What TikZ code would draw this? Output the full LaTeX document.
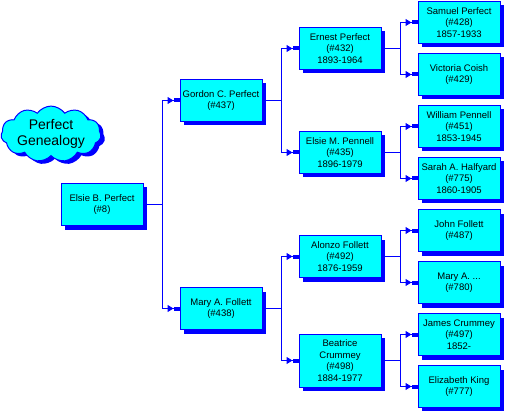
\documentclass[tikz,border=0pt]{standalone}
\usepackage{fontspec}
\setmainfont{Liberation Sans}
\usepackage{tikz}
\usetikzlibrary{positioning,arrows.meta,shadows,shapes.symbols}
\definecolor{aqua}{RGB}{0,255,255}
\definecolor{deepblue}{RGB}{0,0,255}

\begin{document}
\begin{tikzpicture}[
    person/.style={rectangle,draw=deepblue,line width=1pt,fill=aqua,text=black,align=center,
      minimum width=82pt,minimum height=42pt,inner sep=1pt,font=\fontsize{9.5}{11.5}\selectfont,
      drop shadow={fill=deepblue,opacity=1,shadow xshift=4pt,shadow yshift=-4pt}},
    grow'=right, level distance=119pt,
    level 1/.style={sibling distance=208pt},
    level 2/.style={sibling distance=104pt},
    level 3/.style={sibling distance=52pt},
    edge from parent/.style={draw=deepblue,line width=1pt,-{Triangle[length=6pt,width=7pt]Rectangle[length=6pt,width=4pt]}},
    edge from parent path={(\tikzparentnode.east) -- ++(19pt,0) |- (\tikzchildnode.west)}]
  \useasboundingbox (0,0) rectangle (508pt,410pt);
  \node[cloud,cloud puffs=11,cloud puff arc=110,aspect=2.2,draw=deepblue,line width=1pt,fill=aqua,
    minimum width=100pt,minimum height=52pt,inner sep=0pt,align=center,font=\fontsize{14}{16}\selectfont,
    drop shadow={fill=deepblue,opacity=1,shadow xshift=4pt,shadow yshift=-3pt}] (title) at (51pt,276pt) {Perfect\\Genealogy};
  \node[person] (elsieb) at (102pt,205.5pt) {Elsie B. Perfect\\(\#8)}
    child {node[person] (gordon) {Gordon C. Perfect\\(\#437)}
      child {node[person] (ernest) {Ernest Perfect\\(\#432)\\1893-1964}
        child {node[person] (samuel) {Samuel Perfect\\(\#428)\\1857-1933}}
        child {node[person] (victoria) {Victoria Coish\\(\#429)}}
      }
      child {node[person] (elsiem) {Elsie M. Pennell\\(\#435)\\1896-1979}
        child {node[person] (william) {William Pennell\\(\#451)\\1853-1945}}
        child {node[person] (sarah) {Sarah A. Halfyard\\(\#775)\\1860-1905}}
      }
    }
    child {node[person] (mary) {Mary A. Follett\\(\#438)}
      child {node[person] (alonzo) {Alonzo Follett\\(\#492)\\1876-1959}
        child {node[person] (john) {John Follett\\(\#487)}}
        child {node[person] (marya) {Mary A. ...\\(\#780)}}
      }
      child {node[person,minimum height=53pt] (beatrice) {Beatrice\\Crummey\\(\#498)\\1884-1977}
        child {node[person] (james) {James Crummey\\(\#497)\\1852-}}
        child {node[person] (elizabeth) {Elizabeth King\\(\#777)}}
      }
    };
\end{tikzpicture}
\end{document}
